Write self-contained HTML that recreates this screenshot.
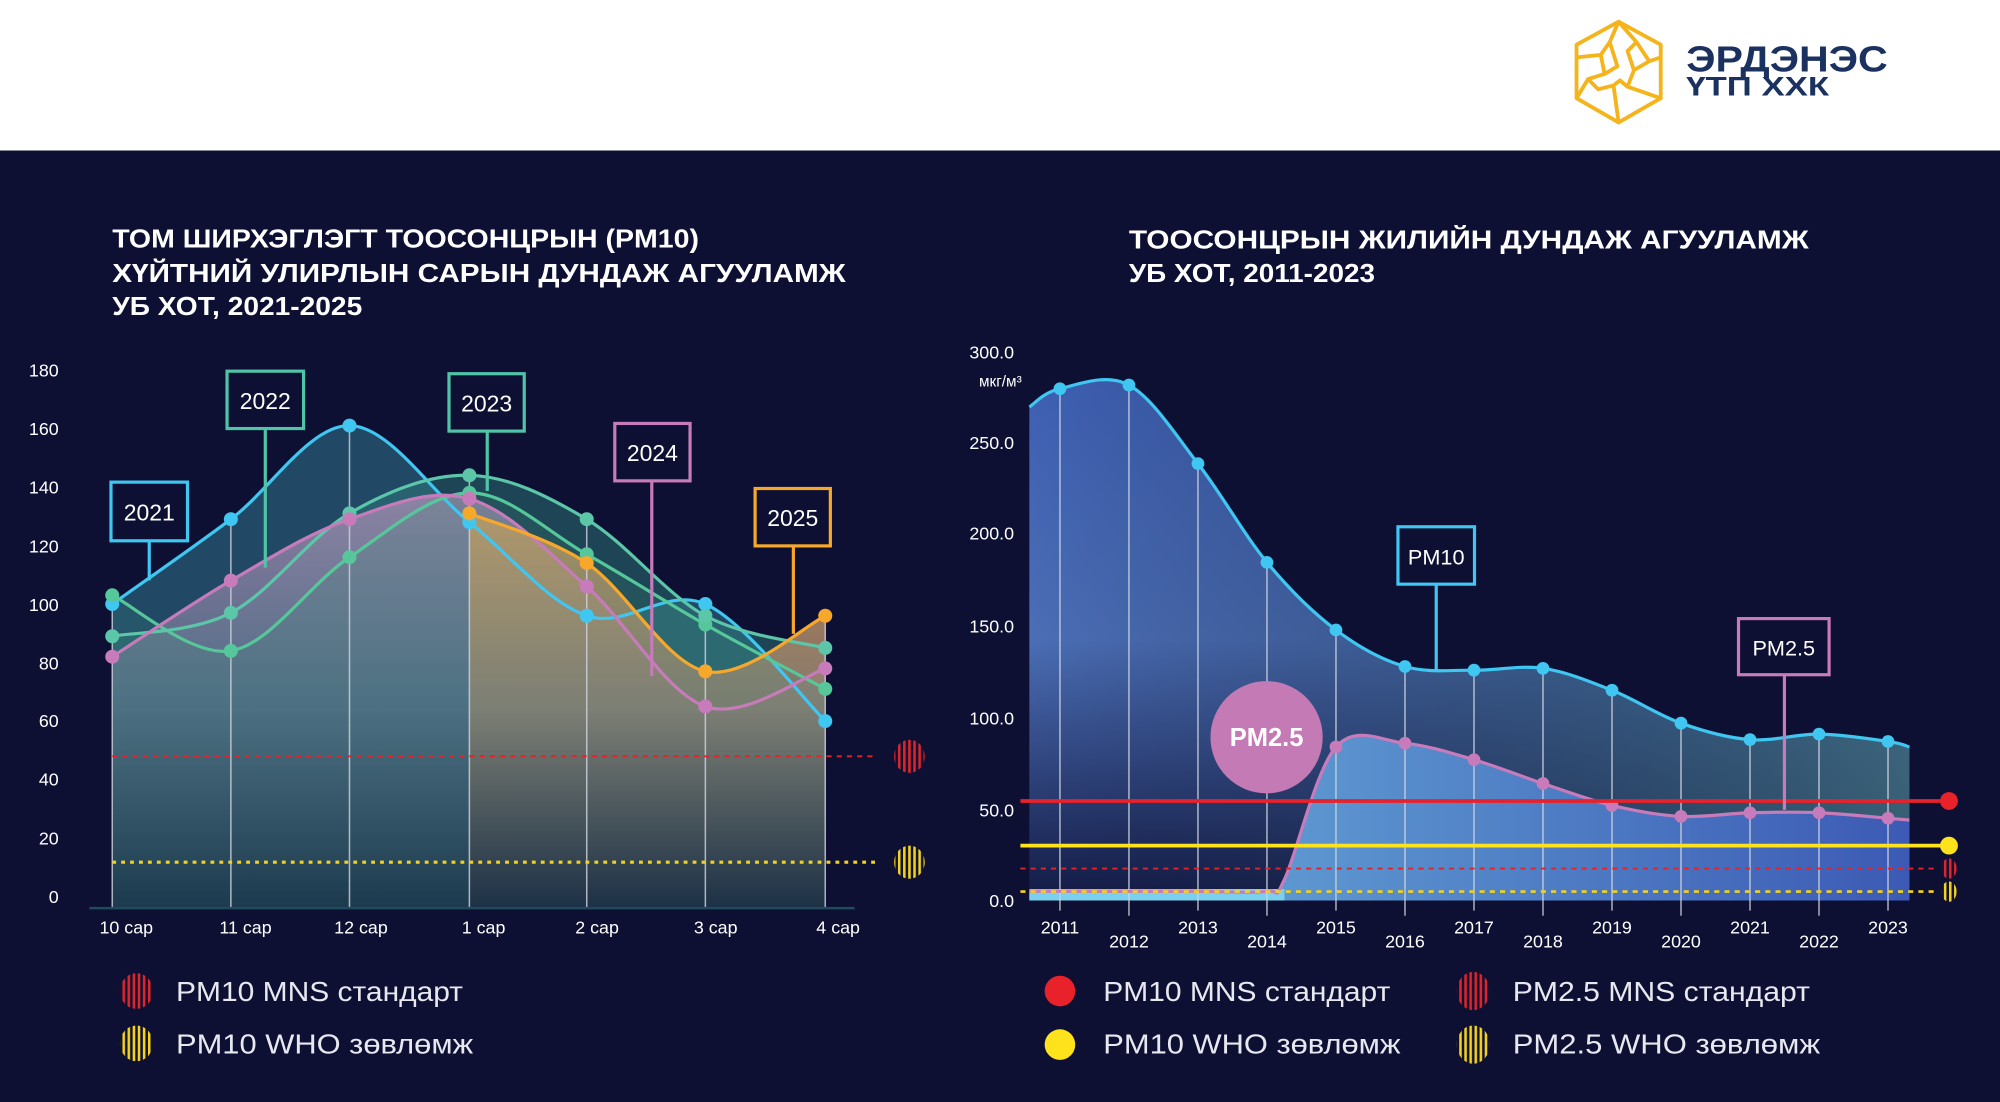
<!DOCTYPE html>
<html><head><meta charset="utf-8"><style>
html,body{margin:0;padding:0;background:#0d1033;}
svg{display:block}
text{font-family:"Liberation Sans","DejaVu Sans",sans-serif;}
</style></head><body>
<svg id="s" width="2000" height="1102" viewBox="0 0 1568 864" preserveAspectRatio="none" xmlns="http://www.w3.org/2000/svg">
<defs>
<linearGradient id="gPink" x1="0" y1="0" x2="0" y2="1"><stop offset="0" stop-color="#a48bb0" stop-opacity="0.95"/><stop offset="0.5" stop-color="#5f6f8c" stop-opacity="0.9"/><stop offset="1" stop-color="#10183a" stop-opacity="0.95"/></linearGradient>
<linearGradient id="gOr" x1="0" y1="0" x2="0" y2="1"><stop offset="0" stop-color="#d9a060" stop-opacity="0.95"/><stop offset="0.5" stop-color="#9a8070" stop-opacity="0.9"/><stop offset="1" stop-color="#151838" stop-opacity="0.95"/></linearGradient>
<linearGradient id="gBlue" x1="0" y1="0" x2="0" y2="1"><stop offset="0" stop-color="#3e5fb2"/><stop offset="0.5" stop-color="#4b6eb5"/><stop offset="1" stop-color="#131a44"/></linearGradient>
<linearGradient id="gBlueH" x1="0" y1="0" x2="1" y2="0"><stop offset="0" stop-color="#0e1335" stop-opacity="0"/><stop offset="0.6" stop-color="#2a4a60" stop-opacity="0.5"/><stop offset="1" stop-color="#3d6a78" stop-opacity="0.8"/></linearGradient>
<linearGradient id="gPm25" x1="0" y1="0" x2="1" y2="0"><stop offset="0" stop-color="#6ab0dc"/><stop offset="1" stop-color="#3c5ab4"/></linearGradient>
<pattern id="strR" width="4" height="4" patternUnits="userSpaceOnUse"><rect width="2" height="4" fill="#e0242a"/></pattern>
<pattern id="strY" width="4" height="4" patternUnits="userSpaceOnUse"><rect width="2" height="4" fill="#f3d21c"/></pattern>
</defs>
<rect x="0" y="0" width="1568" height="118" fill="#ffffff"/>
<rect x="0" y="118" width="1568" height="746" fill="#0d1033"/>
<!-- logo -->
<g stroke="#f5b41c" stroke-width="3" fill="none" stroke-linejoin="round">
<polygon points="1269,17 1302,35 1302,77 1269,96 1236,77 1236,35"/>
<path d="M1269,17 L1283,33 L1293,48 L1302,45 M1283,33 L1276,40 L1281,55 L1293,48 M1236,45 L1255,43 L1262,33 L1269,17 M1255,43 L1258,58 L1268,52 L1262,33 M1236,77 L1245,62 L1258,58 M1245,62 L1253,70 L1265,67 L1269,96 M1265,67 L1270,63 L1276,68 L1281,55 M1276,68 L1302,77"/>
</g>
<text x="1322" y="56" font-size="28" font-weight="bold" fill="#1b3160" textLength="158" lengthAdjust="spacingAndGlyphs">ЭРДЭНЭС</text>
<text x="1322" y="75" font-size="21" font-weight="bold" fill="#1b3160" textLength="112" lengthAdjust="spacingAndGlyphs">ҮТП ХХК</text>

<!-- LEFT titles -->
<g fill="#ffffff" font-size="20" font-weight="bold">
<text x="88" y="194" textLength="460" lengthAdjust="spacingAndGlyphs">ТОМ ШИРХЭГЛЭГТ ТООСОНЦРЫН (PM10)</text>
<text x="88" y="221" textLength="575" lengthAdjust="spacingAndGlyphs">ХҮЙТНИЙ УЛИРЛЫН САРЫН ДУНДАЖ АГУУЛАМЖ</text>
<text x="88" y="247" textLength="196" lengthAdjust="spacingAndGlyphs">УБ ХОТ, 2021-2025</text>
</g>
<g fill="#ffffff" font-size="14" text-anchor="end">
<text x="46" y="295">180</text><text x="46" y="341">160</text><text x="46" y="387">140</text><text x="46" y="433">120</text><text x="46" y="479">100</text><text x="46" y="525">80</text><text x="46" y="570">60</text><text x="46" y="616">40</text><text x="46" y="662">20</text><text x="46" y="708">0</text>
</g>
<g id="L"></g>
<line x1="70" y1="712" x2="670" y2="712" stroke="#1f4a5c" stroke-width="2"/>
<g fill="#ffffff" font-size="14">
<text x="78" y="732">10 сар</text><text x="172" y="732">11 сар</text><text x="262" y="732">12 сар</text><text x="362" y="732">1 сар</text><text x="451" y="732">2 сар</text><text x="544" y="732">3 сар</text><text x="640" y="732">4 сар</text>
</g>
<line x1="88" y1="593" x2="686" y2="593" stroke="#e0242a" stroke-width="1.5" stroke-dasharray="4,4"/>
<line x1="88" y1="676" x2="686" y2="676" stroke="#f3d21c" stroke-width="2.5" stroke-dasharray="3,4"/>
<ellipse cx="713" cy="593" rx="12" ry="13" fill="url(#strR)"/>
<ellipse cx="713" cy="676" rx="12" ry="13" fill="url(#strY)"/>
<ellipse cx="107" cy="777" rx="13" ry="14" fill="url(#strR)"/>
<ellipse cx="107" cy="818" rx="13" ry="14" fill="url(#strY)"/>
<g fill="#e8e8f0" font-size="22"><text x="138" y="785" textLength="225" lengthAdjust="spacingAndGlyphs">PM10 MNS стандарт</text><text x="138" y="826" textLength="233" lengthAdjust="spacingAndGlyphs">PM10 WHO зөвлөмж</text></g>

<!-- RIGHT titles -->
<g fill="#ffffff" font-size="20" font-weight="bold">
<text x="885" y="195" textLength="533" lengthAdjust="spacingAndGlyphs">ТООСОНЦРЫН ЖИЛИЙН ДУНДАЖ АГУУЛАМЖ</text>
<text x="885" y="221" textLength="193" lengthAdjust="spacingAndGlyphs">УБ ХОТ, 2011-2023</text>
</g>
<g fill="#ffffff" font-size="14" text-anchor="end">
<text x="795" y="281">300.0</text><text x="801" y="303" font-size="12">мкг/м³</text><text x="795" y="352">250.0</text><text x="795" y="423">200.0</text><text x="795" y="496">150.0</text><text x="795" y="568">100.0</text><text x="795" y="640">50.0</text><text x="795" y="711">0.0</text>
</g>
<g id="R"></g>
<g fill="#e8e8f0" font-size="22"><text x="865" y="785" textLength="225" lengthAdjust="spacingAndGlyphs">PM10 MNS стандарт</text><text x="865" y="826" textLength="233" lengthAdjust="spacingAndGlyphs">PM10 WHO зөвлөмж</text><text x="1186" y="785" textLength="233" lengthAdjust="spacingAndGlyphs">PM2.5 MNS стандарт</text><text x="1186" y="826" textLength="241" lengthAdjust="spacingAndGlyphs">PM2.5 WHO зөвлөмж</text></g>
<circle cx="831" cy="777" r="12" fill="#e8212a"/>
<circle cx="831" cy="819" r="12" fill="#fde21c"/>
<ellipse cx="1155" cy="777" rx="13" ry="15" fill="url(#strR)"/>
<ellipse cx="1155" cy="819" rx="13" ry="15" fill="url(#strY)"/>
</svg>
<script>
var NS="http://www.w3.org/2000/svg";
function el(p,t,a,txt){var e=document.createElementNS(NS,t);for(var k in a)e.setAttribute(k,a[k]);if(txt)e.textContent=txt;p.appendChild(e);return e;}
function curve(pts){var d="M"+pts[0][0]+","+pts[0][1];for(var i=0;i<pts.length-1;i++){var p0=pts[i-1]||pts[i],p1=pts[i],p2=pts[i+1],p3=pts[i+2]||p2;var t=6;d+=" C"+(p1[0]+(p2[0]-p0[0])/t)+","+(p1[1]+(p2[1]-p0[1])/t)+" "+(p2[0]-(p3[0]-p1[0])/t)+","+(p2[1]-(p3[1]-p1[1])/t)+" "+p2[0]+","+p2[1];}return d;}
var L=document.getElementById("L");
var xs=[88,181,274,368,460,553,647];function yl(v){return 703-v*2.294;}
function P(vals,off){return vals.map(function(v,i){return [xs[i+(off||0)],yl(v)];});}
var cy=[100,129,161,128,96,100,60],g1=[103,84,116,138,117,93,71],g2=[89,97,131,144,129,96,85],pk=[82,108,129,136,106,65,78],og=[131,114,77,96];
var base=712;
function area(pts,fill,op){el(L,"path",{d:curve(pts)+" L"+pts[pts.length-1][0]+","+base+" L"+pts[0][0]+","+base+" Z",fill:fill,"fill-opacity":op});}
area(P(cy),"#24506c",0.9);
area(P(g2),"#2f7a7a",0.5);
area(P(pk),"url(#gPink)",0.85);
area(P(og,3),"url(#gOr)",0.9);
area(P(g1),"#3a8a7a",0.2);
var maxv=[103,129,161,144,129,100,96];
xs.forEach(function(x,i){el(L,"line",{x1:x,y1:yl(maxv[i]),x2:x,y2:712,stroke:"#d0d4e0","stroke-width":1.2,"stroke-opacity":0.8});});
var series=[[cy,0,"#3fc6f1"],[g1,0,"#56c79a"],[g2,0,"#5cc6a8"],[pk,0,"#c77bba"],[og,3,"#f7a82a"]];
series.forEach(function(s){var p=P(s[0],s[1]);el(L,"path",{d:curve(p),fill:"none",stroke:s[2],"stroke-width":2.5});p.forEach(function(q){el(L,"circle",{cx:q[0],cy:q[1],r:5.5,fill:s[2]});});});
function box(g,x,y,w,h,lx,ly2,col,txt,fs){el(g,"line",{x1:lx,y1:y+h,x2:lx,y2:ly2,stroke:col,"stroke-width":2.5});el(g,"rect",{x:x,y:y,width:w,height:h,fill:"#0d1033",stroke:col,"stroke-width":2.5});el(g,"text",{x:x+w/2,y:y+h/2+7,"text-anchor":"middle",fill:"#fff","font-size":fs||18},txt);}
box(L,87,378,60,46,117,455,"#3fc6f1","2021");
box(L,178,291,60,45,208,445,"#4fc4a6","2022");
box(L,352,293,59,45,382,385,"#4fc4a6","2023");
box(L,482,332,59,45,511,530,"#c77bba","2024");
box(L,592,383,59,45,622,497,"#f7a82a","2025");
var R=document.getElementById("R");
function yr(v){return 706-v*1.433;}
var yx=[];for(var i=0;i<13;i++)yx.push(831+i*54.1);
var pm10=[280,282,239,185,148,128,126,127,115,97,88,91,87];
var p10=[[807,yr(270)]].concat(pm10.map(function(v,i){return [yx[i],yr(v)];})).concat([[1497,yr(84)]]);
var d10=curve(p10);
el(R,"path",{d:d10+" L1497,706 L807,706 Z",fill:"url(#gBlue)"});
el(R,"path",{d:d10+" L1497,706 L807,706 Z",fill:"url(#gBlueH)"});
var pm25=[84,86,77,64,52,46,48,48,45];
var p25=[[807,yr(5)],[885,yr(5)],[940,yr(5)],[yx[3],yr(5)],[yx[3]+14,yr(12)]].concat(pm25.map(function(v,i){return [yx[i+4],yr(v)];})).concat([[1497,yr(44)]]);
var d25=curve(p25);
el(R,"path",{d:d25+" L1497,706 L807,706 Z",fill:"url(#gPm25)"});
el(R,"rect",{x:807,y:697,width:200,height:9,fill:"#7ad0ee"});
yx.forEach(function(x,i){el(R,"line",{x1:x,y1:yr(pm10[i]),x2:x,y2:i%2?718:714,stroke:"#d0d4e0","stroke-width":1.2,"stroke-opacity":0.8});el(R,"text",{x:x,y:i%2?743:732,"text-anchor":"middle",fill:"#fff","font-size":14},String(2011+i));});
el(R,"path",{d:d10,fill:"none",stroke:"#3fc6f1","stroke-width":2.5});
el(R,"path",{d:d25,fill:"none",stroke:"#c77bba","stroke-width":2.5});
pm10.forEach(function(v,i){el(R,"circle",{cx:yx[i],cy:yr(v),r:5,fill:"#3fc6f1"});});
pm25.forEach(function(v,i){el(R,"circle",{cx:yx[i+4],cy:yr(v),r:5,fill:"#c77bba"});});
el(R,"line",{x1:800,y1:628,x2:1528,y2:628,stroke:"#e8212a","stroke-width":3});
el(R,"circle",{cx:1528,cy:628,r:7,fill:"#e8212a"});
el(R,"line",{x1:800,y1:663,x2:1528,y2:663,stroke:"#fde21c","stroke-width":3});
el(R,"circle",{cx:1528,cy:663,r:7,fill:"#fde21c"});
el(R,"line",{x1:800,y1:681,x2:1520,y2:681,stroke:"#e0242a","stroke-width":1.5,"stroke-dasharray":"4,4"});
el(R,"line",{x1:800,y1:699,x2:1520,y2:699,stroke:"#f3d21c","stroke-width":2,"stroke-dasharray":"4,4"});
el(R,"ellipse",{cx:1528,cy:681,rx:6,ry:8,fill:"url(#strR)"});
el(R,"ellipse",{cx:1528,cy:699,rx:6,ry:8,fill:"url(#strY)"});
box(R,1096,413,60,45,1126,525,"#3fc6f1","PM10",17);
box(R,1363,485,71,44,1399,635,"#c77bba","PM2.5",17);
el(R,"circle",{cx:993,cy:578,r:44,fill:"#c47ab4"});
el(R,"text",{x:993,y:585,"text-anchor":"middle",fill:"#fff","font-size":20,"font-weight":"bold"},"PM2.5");
</script>
</body></html>
